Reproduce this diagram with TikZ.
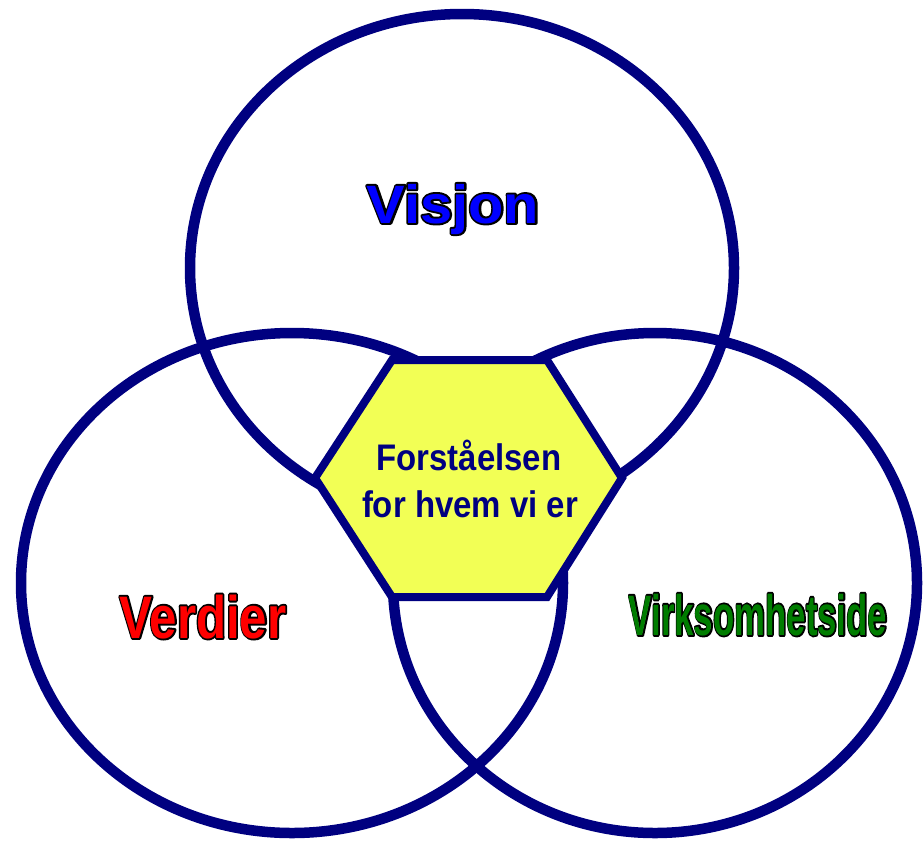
\documentclass[tikz,border=0pt]{standalone}
\usepackage{fontspec}
\usepackage{graphicx}
\setmainfont{Liberation Sans}
\definecolor{ringnavy}{RGB}{0,0,128}
\definecolor{hexyellow}{RGB}{242,255,85}
\definecolor{visblue}{RGB}{0,0,255}
\definecolor{verred}{RGB}{255,0,0}
\definecolor{virgreen}{RGB}{0,125,0}
\newcommand{\outlined}[1]{\rlap{\special{pdf:code q 1 Tr 3.8 w 1 j 0 0 0 RG}#1\special{pdf:code Q}}#1}
\begin{document}
\begin{tikzpicture}[x=1pt,y=-1pt,
  ring/.style={draw=ringnavy,line width=10.5pt},
  hexa/.style={draw=ringnavy,fill=hexyellow,line width=8pt,line join=miter},
  biglabel/.style={inner sep=0pt,anchor=base,font=\bfseries\fontsize{54}{60}\selectfont},
  centerlabel/.style={inner sep=0pt,anchor=base,text=ringnavy,font=\bfseries\fontsize{37}{42}\selectfont}]
\useasboundingbox (0,0) rectangle (923,844);
% circles
\draw[ring] (462,268) ellipse [x radius=272,y radius=254];
\draw[ring] (292,583) ellipse [x radius=271,y radius=250];
\draw[ring] (655,583) ellipse [x radius=262,y radius=250];
% hexagon
\draw[hexa] (392,360) -- (547,360) -- (622,478) -- (547,597) -- (392,597) -- (315,478) -- cycle;
% labels
\node[biglabel,text=visblue] (visjon) at (453,223) {\scalebox{1.07}[1]{\outlined{Visjon}}};
\node[biglabel,text=verred,font=\bfseries\fontsize{60}{66}\selectfont] (verdier) at (203,638) {\scalebox{0.82}[1]{\outlined{Verdier}}};
\node[biglabel,text=virgreen,font=\bfseries\fontsize{57}{62}\selectfont] (virk) at (758,635) {\scalebox{0.61}[1]{\outlined{Virksomhetside}}};
\node[centerlabel] (c1) at (469,470) {\scalebox{0.89}[1]{Forståelsen}};
\node[centerlabel] (c2) at (470,517) {\scalebox{0.89}[1]{for hvem vi er}};
\end{tikzpicture}
\end{document}
